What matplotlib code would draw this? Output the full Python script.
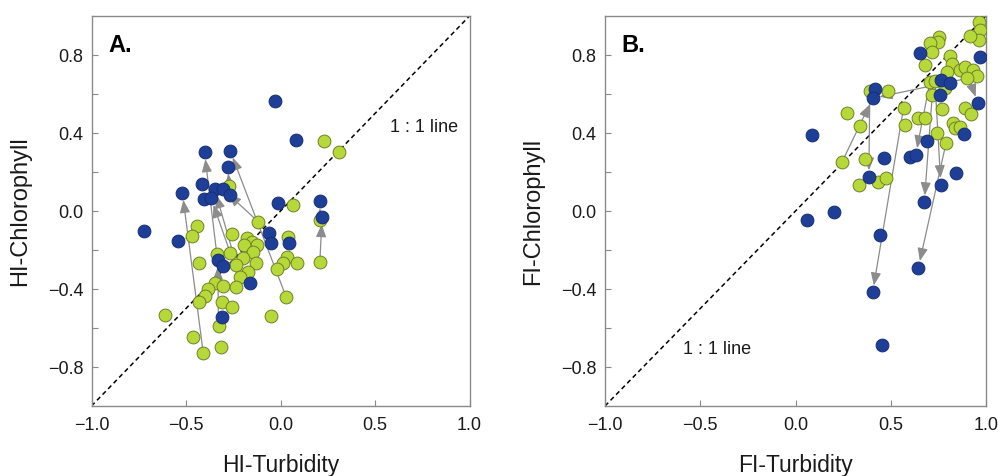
import matplotlib
matplotlib.use("Agg")
import matplotlib.pyplot as plt
import numpy as np

plt.rcParams['font.family'] = ['Liberation Sans', 'DejaVu Sans']

# ---------------- Panel A data (HI) ----------------
a_green_x = [0.228, 0.309, -0.27, 0.065, -0.118, -0.443, 0.208, -0.469, -0.256, -0.176,
             -0.15, -0.123, -0.194, -0.145, -0.265, -0.337, 0.041, -0.429, -0.201, -0.233,
             -0.127, 0.035, 0.012, 0.085, 0.208, -0.021, -0.171, -0.213, -0.348, -0.302,
             -0.236, -0.383, -0.4, -0.432, -0.309, -0.257, 0.03, -0.61, -0.049, -0.328,
             -0.464, -0.316, -0.409]
a_green_y = [0.359, 0.304, 0.127, 0.029, -0.055, -0.075, -0.046, -0.13, -0.116, -0.137,
             -0.157, -0.174, -0.174, -0.212, -0.217, -0.221, -0.132, -0.268, -0.239, -0.277,
             -0.268, -0.238, -0.268, -0.268, -0.263, -0.299, -0.311, -0.338, -0.371, -0.386,
             -0.391, -0.402, -0.434, -0.467, -0.467, -0.494, -0.441, -0.533, -0.537, -0.591,
             -0.648, -0.697, -0.726]
a_blue_x = [-0.03, 0.081, -0.402, -0.266, -0.28, -0.414, -0.519, -0.349, -0.303, -0.265,
            -0.406, -0.367, -0.012, 0.21, 0.22, -0.723, -0.543, -0.06, -0.048, 0.046,
            -0.332, -0.305, -0.159, -0.312]
a_blue_y = [0.566, 0.366, 0.301, 0.308, 0.227, 0.14, 0.092, 0.114, 0.111, 0.082,
            0.061, 0.065, 0.041, 0.05, -0.032, -0.101, -0.154, -0.115, -0.162, -0.162,
            -0.251, -0.28, -0.367, -0.544]
# arrows: index into green (start) -> index into blue (end)
a_arrow_from = [42, 15, 14, 19, 36, 4, 2, 24, 6, 7, 39]
a_arrow_to = [6, 2, 11, 7, 3, 8, 4, 14, 13, 16, 20]

# ---------------- Panel B data (FI) ----------------
b_green_x = [0.964, 0.969, 0.964, 0.918, 0.753, 0.749, 0.706, 0.718, 0.68, 0.81,
             0.822, 0.793, 0.863, 0.889, 0.932, 0.955, 0.901, 0.706, 0.732, 0.718,
             0.784, 0.767, 0.485, 0.39, 0.567, 0.27, 0.892, 0.92, 0.645, 0.68,
             0.574, 0.34, 0.743, 0.79, 0.828, 0.836, 0.863, 0.245, 0.363, 0.332,
             0.432, 0.474]
b_green_y = [0.968, 0.93, 0.877, 0.899, 0.892, 0.868, 0.86, 0.817, 0.749, 0.795,
             0.752, 0.714, 0.723, 0.74, 0.723, 0.692, 0.68, 0.663, 0.667, 0.595,
             0.629, 0.523, 0.615, 0.615, 0.527, 0.501, 0.527, 0.497, 0.475, 0.475,
             0.441, 0.436, 0.398, 0.347, 0.453, 0.424, 0.432, 0.253, 0.265, 0.133,
             0.15, 0.168]
b_blue_x = [0.654, 0.967, 0.419, 0.405, 0.763, 0.81, 0.758, 0.958, 0.085, 0.885,
            0.69, 0.601, 0.631, 0.467, 0.385, 0.845, 0.763, 0.676, 0.201, 0.062,
            0.445, 0.405, 0.645, 0.453]
b_blue_y = [0.812, 0.791, 0.626, 0.578, 0.672, 0.655, 0.595, 0.552, 0.39, 0.395,
            0.357, 0.278, 0.287, 0.27, 0.173, 0.193, 0.133, 0.045, -0.007, -0.047,
            -0.123, -0.417, -0.291, -0.687]
b_arrow_from = [23, 37, 24, 33, 17, 19, 18, 13, 16]
b_arrow_to = [14, 3, 21, 22, 12, 17, 16, 7, 3]

GREEN = '#b7d839'
GREEN_EDGE = '#6f7f2a'
BLUE = '#1f3e98'
BLUE_EDGE = '#172f70'
ARROW = '#8c8c8c'
FRAME = '#8a8a8a'

fig = plt.figure(figsize=(9.98, 4.76), dpi=100)
axA = fig.add_axes([91.5 / 998, 1 - 406 / 476, 378 / 998, 390 / 476])
axB = fig.add_axes([605 / 998, 1 - 406 / 476, 381 / 998, 390 / 476])


def draw(ax, gx, gy, bx, by, afrom, ato, letter, xlabel, ylabel, ltx, lty):
    ax.set_xlim(-1, 1)
    ax.set_ylim(-1, 1)
    ax.plot([-1, 1], [-1, 1], color='black', lw=1.1, ls=(0, (3, 2.2)), zorder=1)
    for i, j in zip(afrom, ato):
        ax.annotate('', xy=(bx[j], by[j]), xytext=(gx[i], gy[i]),
                    arrowprops=dict(arrowstyle='-|>,head_length=0.55,head_width=0.22',
                                    color=ARROW, lw=0.9, shrinkA=0, shrinkB=5,
                                    mutation_scale=14),
                    zorder=2)
    ax.scatter(gx, gy, s=85, c=GREEN, edgecolors=GREEN_EDGE, linewidths=0.7, zorder=3)
    ax.scatter(bx, by, s=85, c=BLUE, edgecolors=BLUE_EDGE, linewidths=0.7, zorder=4)
    ax.set_xticks([-1.0, -0.5, 0.0, 0.5, 1.0])
    ax.set_xticklabels(['\u22121.0', '\u22120.5', '0.0', '0.5', '1.0'])
    yt = [-0.8, -0.6, -0.4, -0.2, 0.0, 0.2, 0.4, 0.6, 0.8]
    ax.set_yticks(yt)
    labs = []
    for v in yt:
        if abs(round(v / 0.4) * 0.4 - v) < 1e-9:
            labs.append(('\u2212' if v < 0 else '') + '%.1f' % abs(v))
        else:
            labs.append('')
    ax.set_yticklabels(labs)
    ax.tick_params(direction='in', length=4.5, width=0.8, color=FRAME,
                   labelsize=13, labelcolor='#1a1a1a')
    ax.tick_params(axis='x', pad=8)
    ax.tick_params(axis='y', pad=6)
    for sp in ax.spines.values():
        sp.set_color(FRAME)
        sp.set_linewidth(1.0)
    ax.set_xlabel(xlabel, fontsize=16.5, labelpad=14, color='#1a1a1a')
    ax.set_ylabel(ylabel, fontsize=17, labelpad=12, color='#1a1a1a')
    ax.text(0.044, 0.925, letter, transform=ax.transAxes, fontsize=17,
            fontweight='bold', va='center', ha='left')
    ax.text(ltx, lty, '1 : 1 line', fontsize=13, va='center', ha='left',
            color='#1a1a1a')


draw(axA, a_green_x, a_green_y, a_blue_x, a_blue_y, a_arrow_from, a_arrow_to,
     'A.', 'HI-Turbidity', 'HI-Chlorophyll', 0.58, 0.43)
draw(axB, b_green_x, b_green_y, b_blue_x, b_blue_y, b_arrow_from, b_arrow_to,
     'B.', 'FI-Turbidity', 'FI-Chlorophyll', -0.59, -0.708)

fig.savefig('out.png', dpi=100)
